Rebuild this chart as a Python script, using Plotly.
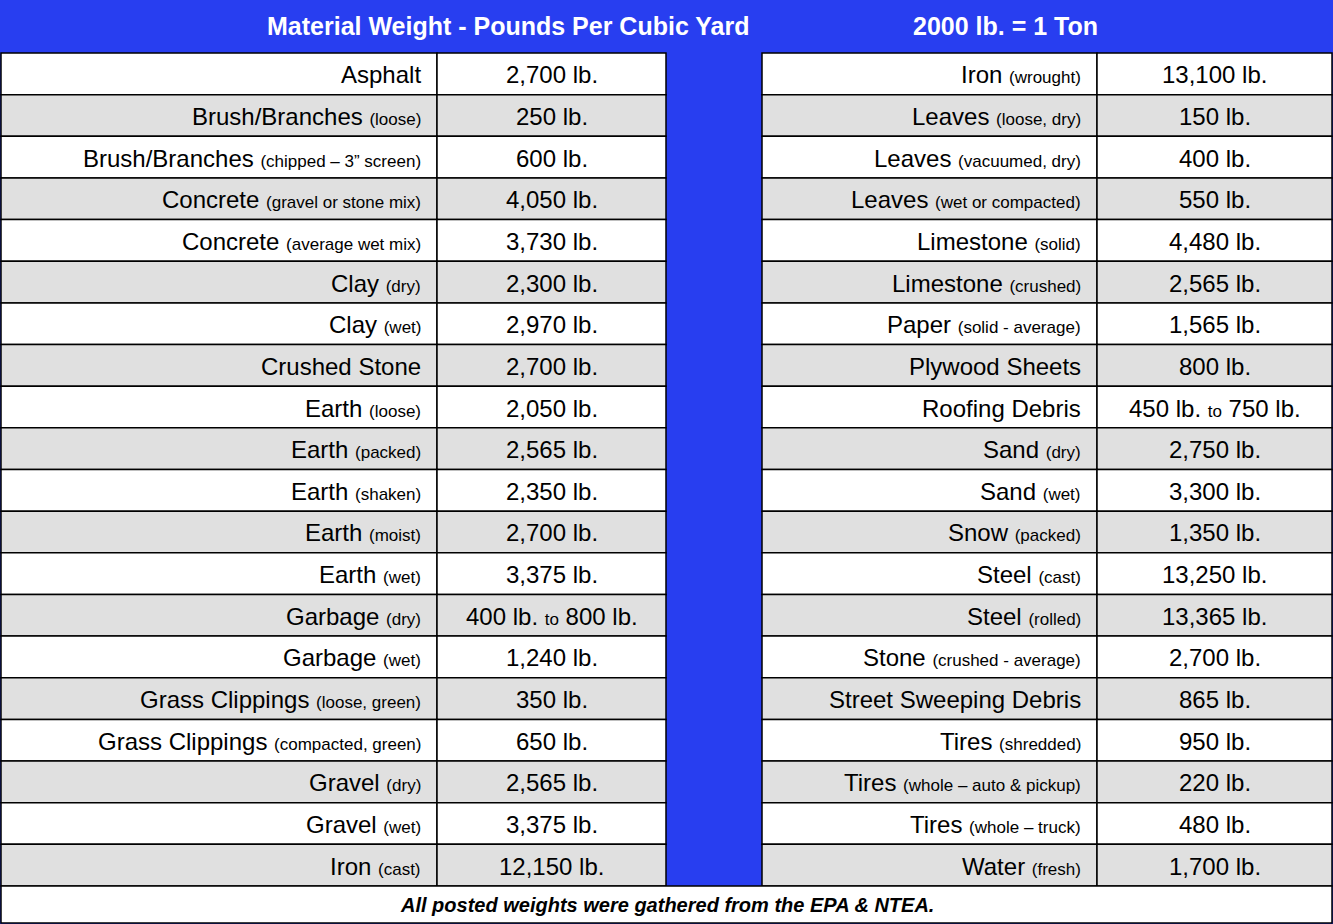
import plotly.graph_objects as go

title_left = "Material Weight - Pounds Per Cubic Yard"
title_right = "2000 lb. = 1 Ton"
footer = "All posted weights were gathered from the EPA & NTEA."

left_names = ["Asphalt", "Brush/Branches", "Brush/Branches", "Concrete", "Concrete", "Clay", "Clay",
              "Crushed Stone", "Earth", "Earth", "Earth", "Earth", "Earth", "Garbage", "Garbage",
              "Grass Clippings", "Grass Clippings", "Gravel", "Gravel", "Iron"]
left_notes = ["", "(loose)", "(chipped – 3” screen)", "(gravel or stone mix)", "(average wet mix)", "(dry)", "(wet)",
              "", "(loose)", "(packed)", "(shaken)", "(moist)", "(wet)", "(dry)", "(wet)",
              "(loose, green)", "(compacted, green)", "(dry)", "(wet)", "(cast)"]
left_values = ["2,700 lb.", "250 lb.", "600 lb.", "4,050 lb.", "3,730 lb.", "2,300 lb.", "2,970 lb.",
               "2,700 lb.", "2,050 lb.", "2,565 lb.", "2,350 lb.", "2,700 lb.", "3,375 lb.", "400 lb. | 800 lb.",
               "1,240 lb.", "350 lb.", "650 lb.", "2,565 lb.", "3,375 lb.", "12,150 lb."]

right_names = ["Iron", "Leaves", "Leaves", "Leaves", "Limestone", "Limestone", "Paper", "Plywood Sheets",
               "Roofing Debris", "Sand", "Sand", "Snow", "Steel", "Steel", "Stone", "Street Sweeping Debris",
               "Tires", "Tires", "Tires", "Water"]
right_notes = ["(wrought)", "(loose, dry)", "(vacuumed, dry)", "(wet or compacted)", "(solid)", "(crushed)",
               "(solid - average)", "", "", "(dry)", "(wet)", "(packed)", "(cast)", "(rolled)",
               "(crushed - average)", "", "(shredded)", "(whole – auto & pickup)", "(whole – truck)", "(fresh)"]
right_values = ["13,100 lb.", "150 lb.", "400 lb.", "550 lb.", "4,480 lb.", "2,565 lb.", "1,565 lb.", "800 lb.",
                "450 lb. | 750 lb.", "2,750 lb.", "3,300 lb.", "1,350 lb.", "13,250 lb.", "13,365 lb.",
                "2,700 lb.", "865 lb.", "950 lb.", "220 lb.", "480 lb.", "1,700 lb."]

W, H = 1333, 924
BLUE = "rgb(40,62,240)"
GRAY = "rgb(224,224,224)"
FONT = "Liberation Sans, Arial, sans-serif"
top, row_h = 53, 41.65
cols_left = (1, 437, 666)
cols_right = (762, 1097, 1332)

fig = go.Figure()
shapes, anns = [], []
shapes.append(dict(type="rect", x0=0, x1=W, y0=0, y1=H, fillcolor=BLUE, line_width=0, layer="below"))


def fmt_value(v):
    if "|" in v:
        a, b = [s.strip() for s in v.split("|")]
        return f"{a} <span style='font-size:17px'>to</span> {b}"
    return v


def add_table(names, notes, values, cols):
    for i, (n, note, v) in enumerate(zip(names, notes, values)):
        y0 = top + i * row_h
        y1 = y0 + row_h
        fill = "white" if i % 2 == 0 else GRAY
        for xa, xb in ((cols[0], cols[1]), (cols[1], cols[2])):
            shapes.append(dict(type="rect", x0=xa, x1=xb, y0=y0, y1=y1, fillcolor=fill,
                               line=dict(color="black", width=1.5), layer="below"))
        label = n + (f" <span style='font-size:17px'>{note}</span>" if note else "")
        anns.append(dict(x=cols[1] - 14, y=(y0 + y1) / 2 + 1, text=label, xanchor="right",
                         showarrow=False, font=dict(size=24, color="black", family=FONT)))
        anns.append(dict(x=(cols[1] + cols[2]) / 2, y=(y0 + y1) / 2 + 1, text=fmt_value(v),
                         xanchor="center", showarrow=False, font=dict(size=24, color="black", family=FONT)))


add_table(left_names, left_notes, left_values, cols_left)
add_table(right_names, right_notes, right_values, cols_right)

foot_y0 = top + 20 * row_h
shapes.append(dict(type="rect", x0=1, x1=W - 1, y0=foot_y0, y1=H - 1, fillcolor="white",
                   line=dict(color="black", width=1.5), layer="below"))
anns.append(dict(x=W / 2, y=(foot_y0 + H) / 2, text=f"<b><i>{footer}</i></b>", showarrow=False,
                 font=dict(size=20, color="black", family=FONT)))
anns.append(dict(x=508, y=26, text=f"<b>{title_left}</b>", showarrow=False,
                 font=dict(size=25, color="white", family=FONT)))
anns.append(dict(x=1005, y=26, text=f"<b>{title_right}</b>", showarrow=False,
                 font=dict(size=25, color="white", family=FONT)))

fig.update_layout(
    width=W, height=H,
    margin=dict(l=0, r=0, t=0, b=0),
    paper_bgcolor=BLUE, plot_bgcolor=BLUE,
    xaxis=dict(range=[0, W], visible=False, fixedrange=True),
    yaxis=dict(range=[H, 0], visible=False, fixedrange=True),
    shapes=shapes, annotations=anns, showlegend=False,
)

fig.write_html("out.html", config={"displayModeBar": False},
               post_script="document.body.style.margin='0';document.body.style.overflow='hidden';")
